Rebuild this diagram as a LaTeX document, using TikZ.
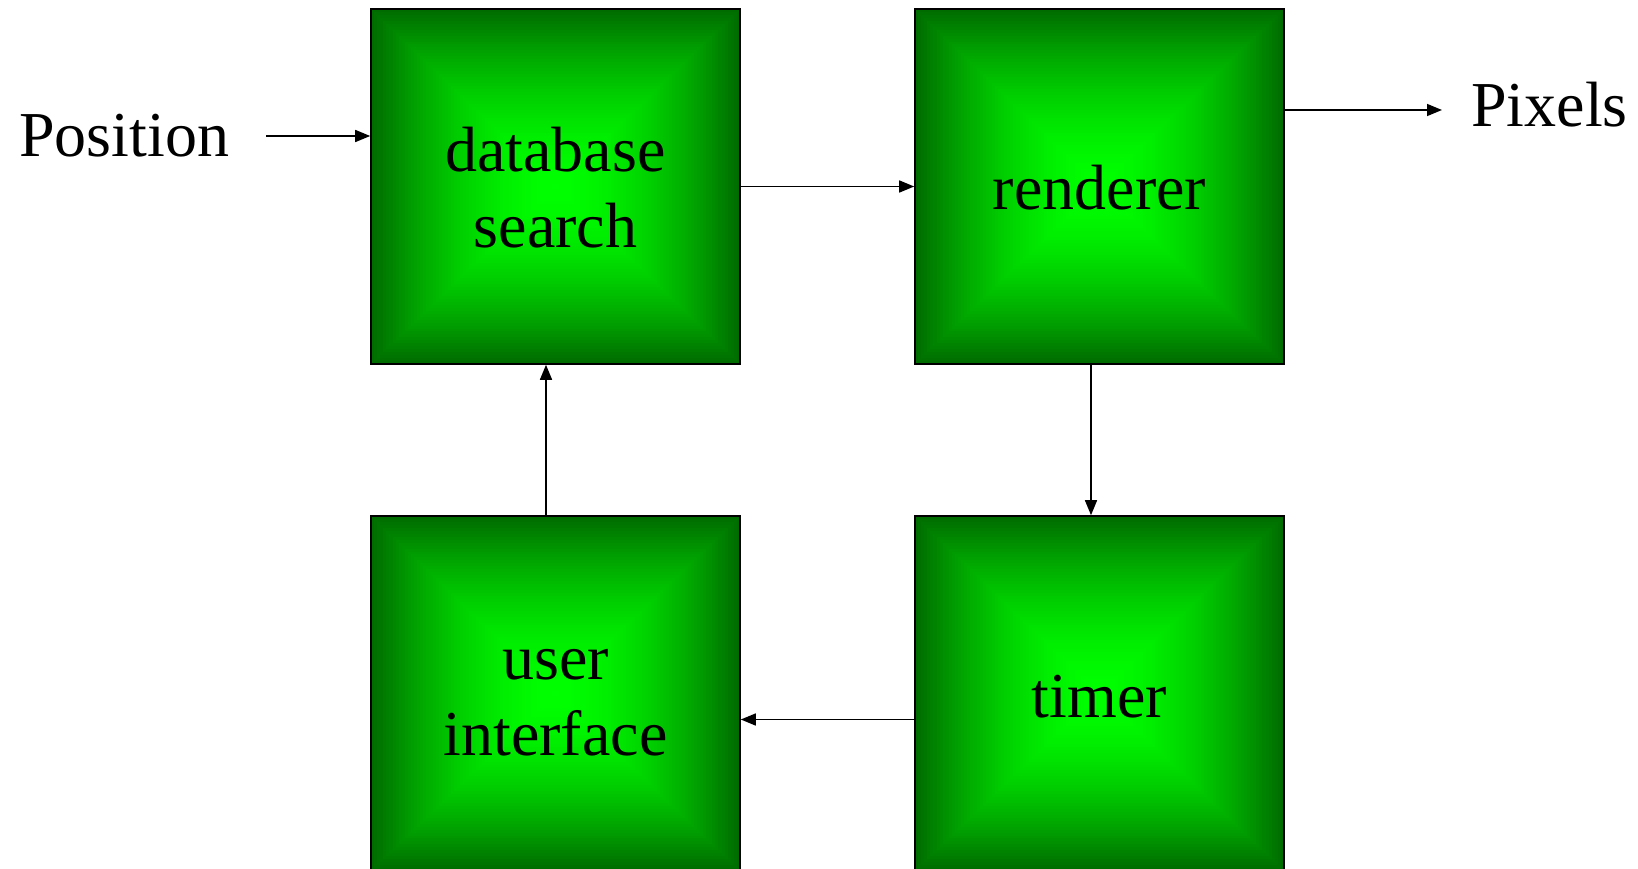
\documentclass[tikz,border=0pt]{standalone}
\usepackage{fontspec}
\setmainfont{Liberation Serif}
\usetikzlibrary{calc,arrows.meta}
\definecolor{darkg}{RGB}{0,108,0}
\definecolor{brightg}{RGB}{0,255,0}
\newcommand{\bigfont}{\fontsize{64}{76}\selectfont}
\newcommand{\bt}[2]{\raisebox{-#1}[0pt][0pt]{\begin{tabular}[b]{@{}c@{}}#2\end{tabular}}}
\tikzset{
  gbox/.style={minimum width=369pt, minimum height=355pt, inner sep=0pt,
    draw=black, line width=1.6pt, align=center, font=\bigfont,
    path picture={
      \foreach \i in {0,...,60}{
        \pgfmathsetmacro\f{1-\i/60}
        \pgfmathsetmacro\p{100*(1-\f^1.7)}
        \fill[brightg!\p!darkg]
          ($(path picture bounding box.center)!\f!(path picture bounding box.north west)$)
          rectangle
          ($(path picture bounding box.center)!\f!(path picture bounding box.south east)$);
      }}},
  lbl/.style={inner sep=0pt, font=\bigfont},
  arr/.style={line width=1.5pt, -{Triangle[length=15pt,width=12pt]}}
}
\begin{document}
\begin{tikzpicture}[x=1pt,y=-1pt]
\useasboundingbox (0,0) rectangle (1638,869);
\node[gbox] (db) at (555.5,186.5) {\bt{61.5pt}{database\\search}};
\node[gbox] (rr) at (1099.5,186.5) {\bt{23.5pt}{renderer}};
\node[gbox] (ui) at (555.5,693.5) {\bt{61.5pt}{user\\interface}};
\node[gbox] (tm) at (1099.5,693.5) {\bt{23.5pt}{timer}};
\node[lbl, anchor=base west] (pos) at (19,157) {Position};
\node[lbl, anchor=base west] (pix) at (1471,127) {Pixels};
\coordinate (pstart) at (266,136);
\coordinate (pend) at (1442,110);
\draw[arr] (pstart) -- ([yshift=50.5pt]db.west);
\draw[arr] (db.east) -- (rr.west);
\draw[arr] ([yshift=76.5pt]rr.east) -- (pend);
\draw[arr] ([xshift=-8.5pt]rr.south) -- ([xshift=-8.5pt]tm.north);
\draw[arr] ([yshift=-26pt]tm.west) -- ([yshift=-26pt]ui.east);
\draw[arr] ([xshift=-9.5pt]ui.north) -- ([xshift=-9.5pt]db.south);
\end{tikzpicture}
\end{document}
